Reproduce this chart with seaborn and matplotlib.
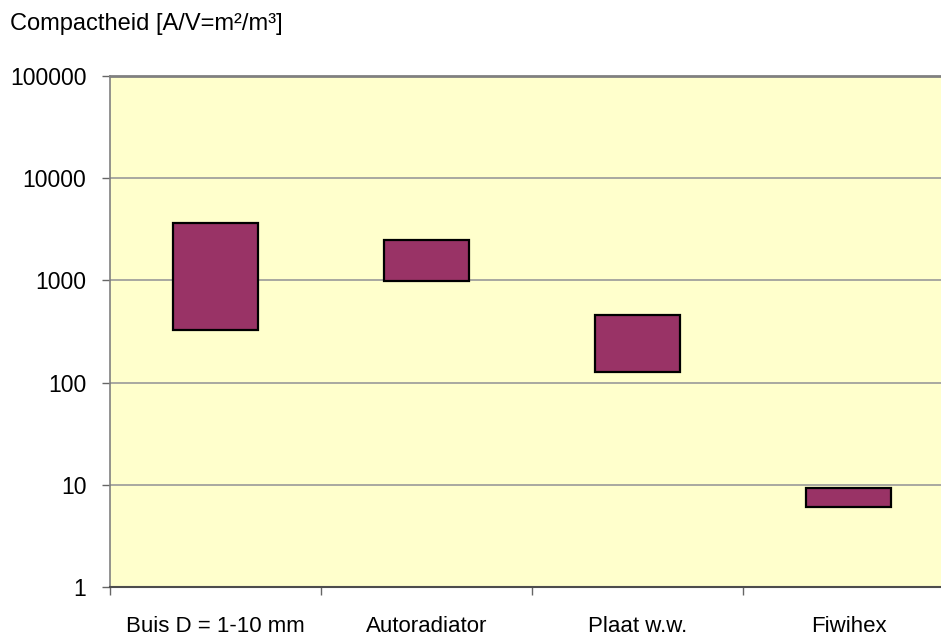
import matplotlib
matplotlib.use("Agg")
import matplotlib.pyplot as plt
import seaborn as sns
import numpy as np
import pandas as pd
from matplotlib.ticker import FixedLocator, NullLocator

categories = ["Buis D = 1-10 mm", "Autoradiator", "Plaat w.w.", "Fiwihex"]
low_values = [330, 985, 127, 6.1]
high_values = [3650, 2470, 460, 9.3]
y_tick_values = [1, 10, 100, 1000, 10000, 100000]
y_tick_labels = ["1", "10", "100", "1000", "10000", "100000"]
title_text = "Compactheid [A/V=m²/m³]"

sns.set_theme(style="white")
plt.rcParams["font.family"] = ["Liberation Sans", "DejaVu Sans"]

df = pd.DataFrame({
    "cat": categories,
    "low": low_values,
    "span": np.array(high_values) - np.array(low_values),
})

fig = plt.figure(figsize=(9.41, 6.41), dpi=100)
ax = fig.add_axes([110/941, 54/641, 844/941, 511/641])
ax.set_facecolor("#FFFFCC")

sns.barplot(data=df, x="cat", y="span", bottom=df["low"], ax=ax,
            color="#993366", saturation=1, width=0.4,
            edgecolor="black", linewidth=1.6, zorder=3)
ax.set_yscale("log")
ax.set_ylim(1, 100000)
ax.set_xlim(-0.5, 3.5)

ax.yaxis.set_major_locator(FixedLocator(y_tick_values))
ax.set_yticklabels(y_tick_labels)
ax.yaxis.set_minor_locator(NullLocator())
ax.grid(axis="y", which="major", color="#999999", linewidth=1.2, zorder=1)
ax.set_axisbelow(True)

ax.set_xticks(range(len(categories)))
ax.set_xticklabels(categories)
ax.xaxis.set_minor_locator(FixedLocator([-0.5, 0.5, 1.5, 2.5, 3.5]))
ax.tick_params(axis="x", which="major", length=0, pad=21, labelsize=16, colors="black")
ax.tick_params(axis="x", which="minor", length=6, width=1, color="#666666", bottom=True)
ax.tick_params(axis="y", which="major", length=6, width=1, color="#666666",
               pad=11, labelsize=16.5, left=True, labelcolor="black")
ax.set_xlabel("")
ax.set_ylabel("")

ax.spines["top"].set_color("#808080")
ax.spines["top"].set_linewidth(2)
ax.spines["left"].set_color("#808080")
ax.spines["left"].set_linewidth(1.2)
ax.spines["bottom"].set_color("#4d4d4d")
ax.spines["bottom"].set_linewidth(1.5)
ax.spines["right"].set_visible(False)

fig.text(10/941, 1 - 30/641, title_text, fontsize=17, ha="left", va="baseline", color="black")

fig.savefig("out.png", dpi=100)
